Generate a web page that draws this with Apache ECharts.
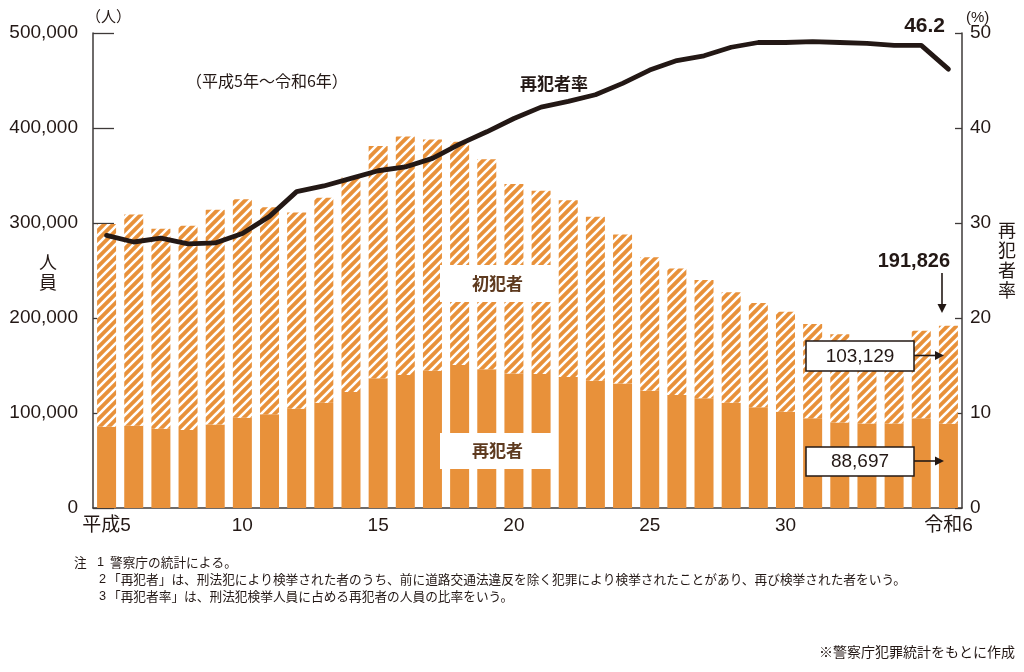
<!DOCTYPE html>
<html>
<head>
<meta charset="utf-8">
<script src="https://cdn.jsdelivr.net/npm/echarts@6/dist/echarts.min.js"></script>
<style>
  html, body { margin: 0; padding: 0; background: #fff; }
  #chart { width: 1024px; height: 672px; }
</style>
</head>
<body>
<div id="chart"></div>
<script>
// 年次（平成5年～令和6年）
const categories = [
  '平成5', '平成6', '平成7', '平成8', '平成9', '平成10', '平成11', '平成12',
  '平成13', '平成14', '平成15', '平成16', '平成17', '平成18', '平成19', '平成20',
  '平成21', '平成22', '平成23', '平成24', '平成25', '平成26', '平成27', '平成28',
  '平成29', '平成30', '令和元', '令和2', '令和3', '令和4', '令和5', '令和6'
]
// 再犯者（人）
const reoffenders = [
  85600, 86600, 83500, 82000, 88000, 95000, 98600, 104500,
  110900, 122000, 136500, 140000, 144500, 150500, 146000, 141700,
  141000, 138000, 134000, 131000, 123500, 119000, 115400, 110900,
  106000, 101400, 94400, 90000, 89000, 89000, 94400, 88697
]
// 初犯者（人）
const firstOffenders = [
  213400, 222400, 210500, 215000, 226000, 230000, 217900, 206500,
  215800, 226000, 244500, 251000, 243500, 235100, 221000, 199300,
  193000, 186000, 172600, 157000, 140500, 133000, 124600, 116100,
  109800, 105300, 99300, 93000, 85000, 80000, 92300, 103129
]
// 再犯者率（%）
const reoffendRate = [
  28.7, 28.0, 28.4, 27.8, 27.9, 28.9, 30.7, 33.3,
  33.9, 34.7, 35.5, 35.9, 36.8, 38.3, 39.6, 41.0,
  42.2, 42.8, 43.5, 44.7, 46.1, 47.1, 47.6, 48.5,
  49.0, 49.0, 49.1, 49.0, 48.9, 48.7, 48.7, 46.2
]
// 横軸に表示する目盛ラベル
const xTickLabels = {
  '平成5': '平成5', '平成10': '10', '平成15': '15', '平成20': '20',
  '平成25': '25', '平成30': '30', '令和6': '令和6'
}

const ORANGE = '#e8913a'
const INK = '#231815'
const AXIS = '#3e3a39'
const NUM_FONT = '"Liberation Sans", "Noto Sans CJK JP", sans-serif'
const JP_FONT = '"Noto Sans CJK JP", sans-serif'

// 初犯者の斜線パターン
const makeHatch = () => {
  const s = 9
  const c = document.createElement('canvas')
  c.width = s
  c.height = s
  const g = c.getContext('2d')
  g.fillStyle = ORANGE
  g.fillRect(0, 0, s, s)
  g.strokeStyle = '#fff'
  g.lineWidth = 2.6
  g.beginPath()
  g.moveTo(-3, s + 3); g.lineTo(s + 3, -3)
  g.moveTo(-3, 3); g.lineTo(3, -3)
  g.moveTo(s - 3, s + 3); g.lineTo(s + 3, s - 3)
  g.stroke()
  return c
}

const txt = (text, x, y, opts = {}) => ({
  type: 'text', x, y, z: 60,
  style: Object.assign({
    text, fill: INK, font: '16px ' + JP_FONT, align: 'left', verticalAlign: 'middle'
  }, opts)
})
const box = (x, y, w, h, stroke) => ({
  type: 'rect', z: 55,
  shape: { x, y, width: w, height: h },
  style: { fill: '#fff', stroke: stroke ? INK : null, lineWidth: 1.5 }
})
const hArrow = (x1, x2, y) => [
  { type: 'line', z: 60, shape: { x1, y1: y, x2: x2 - 6, y2: y }, style: { stroke: INK, lineWidth: 1.6 } },
  { type: 'polygon', z: 60, shape: { points: [[x2 - 9, y - 4.5], [x2 - 9, y + 4.5], [x2, y]] }, style: { fill: INK } }
]
const vArrow = (x, y1, y2) => [
  { type: 'line', z: 60, shape: { x1: x, y1, x2: x, y2: y2 - 6 }, style: { stroke: INK, lineWidth: 1.6 } },
  { type: 'polygon', z: 60, shape: { points: [[x - 4.5, y2 - 9], [x + 4.5, y2 - 9], [x, y2]] }, style: { fill: INK } }
]

const chart = echarts.init(document.getElementById('chart'))

const option = {
  animation: false,
  backgroundColor: '#fff',
  grid: { left: 93, right: 62, top: 33, bottom: 164 },
  xAxis: {
    type: 'category',
    data: categories,
    axisLine: { lineStyle: { color: AXIS, width: 1.5 } },
    axisTick: { show: false },
    axisLabel: {
      interval: (i, v) => xTickLabels[v] !== undefined,
      formatter: v => xTickLabels[v] || '',
      color: INK,
      fontSize: 19,
      fontFamily: NUM_FONT,
      margin: 8
    }
  },
  yAxis: [
    {
      type: 'value',
      min: 0, max: 500000, interval: 100000,
      axisLine: { show: true, lineStyle: { color: AXIS, width: 1.5 } },
      axisTick: { show: true, inside: true, length: 21, lineStyle: { color: AXIS, width: 1.3 } },
      splitLine: { show: false },
      axisLabel: {
        color: INK, fontSize: 19, fontFamily: NUM_FONT, margin: 15,
        formatter: v => v.toLocaleString('en-US')
      }
    },
    {
      type: 'value',
      min: 0, max: 50, interval: 10,
      position: 'right',
      axisLine: { show: true, lineStyle: { color: AXIS, width: 1.5 } },
      axisTick: { show: true, inside: true, length: 7, lineStyle: { color: AXIS, width: 1.3 } },
      splitLine: { show: false },
      axisLabel: { color: INK, fontSize: 19, fontFamily: NUM_FONT, margin: 8 }
    }
  ],
  series: [
    {
      name: '再犯者',
      type: 'bar',
      stack: 'total',
      barWidth: 19,
      itemStyle: { color: ORANGE },
      data: reoffenders
    },
    {
      name: '初犯者',
      type: 'bar',
      stack: 'total',
      barWidth: 19,
      itemStyle: { color: { image: makeHatch(), repeat: 'repeat' } },
      data: firstOffenders
    },
    {
      name: '再犯者率',
      type: 'line',
      yAxisIndex: 1,
      symbol: 'none',
      z: 10,
      lineStyle: { color: INK, width: 4.8, cap: 'round', join: 'round' },
      data: reoffendRate
    }
  ],
  graphic: [
    txt('（人）', 86, 16, { font: '15px ' + JP_FONT }),
    txt('(%)', 966, 18, { font: '15px ' + NUM_FONT }),
    txt('人\n員', 48, 272, { font: '18px ' + JP_FONT, align: 'center', lineHeight: 20 }),
    txt('再\n犯\n者\n率', 1007, 260, { font: '18px ' + JP_FONT, align: 'center', lineHeight: 20 }),
    txt('（平成5年～令和6年）', 186, 81, { font: '16px ' + JP_FONT }),
    txt('再犯者率', 520, 84, { font: 'bold 17px ' + JP_FONT }),
    txt('46.2', 945, 26, { font: 'bold 21px ' + NUM_FONT, align: 'right' }),
    txt('191,826', 950, 261, { font: 'bold 20px ' + NUM_FONT, align: 'right' }),
    ...vArrow(942, 273, 313),
    box(806, 341, 108, 30, true),
    txt('103,129', 860, 356.5, { font: '19px ' + NUM_FONT, align: 'center' }),
    ...hArrow(914, 944, 355.5),
    box(806, 447, 108, 29, true),
    txt('88,697', 860, 461.5, { font: '19px ' + NUM_FONT, align: 'center' }),
    ...hArrow(914, 944, 461),
    box(440, 265, 115, 37, false),
    txt('初犯者', 497.5, 284, { font: 'bold 17px ' + JP_FONT, fill: '#5e3a1f', align: 'center' }),
    box(440, 433, 115, 36, false),
    txt('再犯者', 497.5, 451, { font: 'bold 17px ' + JP_FONT, fill: '#5e3a1f', align: 'center' }),
    txt('注', 74, 562, { font: '12.7px ' + JP_FONT }),
    txt('1', 97, 562, { font: '12.7px ' + NUM_FONT }),
    txt('警察庁の統計による。', 110, 562, { font: '12.7px ' + JP_FONT }),
    txt('2', 99, 579, { font: '12.7px ' + NUM_FONT }),
    txt('「再犯者」は、刑法犯により検挙された者のうち、前に道路交通法違反を除く犯罪により検挙されたことがあり、再び検挙された者をいう。', 108, 579, { font: '12.7px ' + JP_FONT }),
    txt('3', 99, 596, { font: '12.7px ' + NUM_FONT }),
    txt('「再犯者率」は、刑法犯検挙人員に占める再犯者の人員の比率をいう。', 108, 596, { font: '12.7px ' + JP_FONT }),
    txt('※警察庁犯罪統計をもとに作成', 1015, 652, { font: '14px ' + JP_FONT, align: 'right' })
  ]
}

chart.setOption(option)
</script>
</body>
</html>
